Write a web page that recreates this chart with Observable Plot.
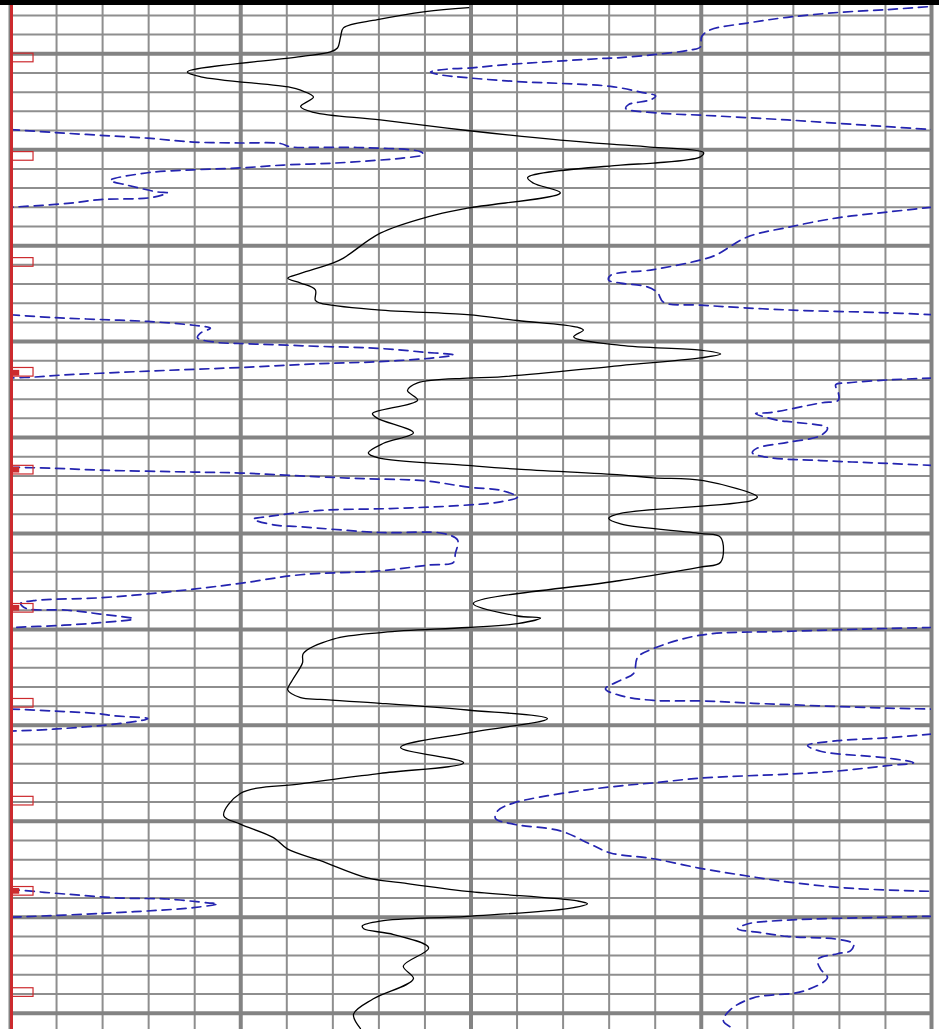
<!DOCTYPE html>
<html><head><meta charset="utf-8">
<script src="https://cdn.jsdelivr.net/npm/d3@7"></script>
<script src="https://cdn.jsdelivr.net/npm/@observablehq/plot@0.6"></script>
<style>
html,body{margin:0;padding:0;background:#fff;}
#bar{height:5px;width:939px;background:#000;}
#chart svg{display:block;}
</style></head><body>
<div id="bar"></div>
<div id="chart"></div>
<script>
// track scale ticks
const minorX = [0,10,20,30,40,50,60,70,80,90,100,110,120,130,140,150,160,170,180,190,200];
const majorX = [0,50,100,150,200];
const minorDepth = [996,998,1000,1002,1004,1006,1008,1010,1012,1014,1016,1018,1020,1022,1024,1026,1028,1030,1032,1034,1036,1038,1040,1042,1044,1046,1048,1050,1052,1054,1056,1058,1060,1062,1064,1066,1068,1070,1072,1074,1076,1078,1080,1082,1084,1086,1088,1090,1092,1094,1096,1098,1100];
const majorDepth = [1000,1010,1020,1030,1040,1050,1060,1070,1080,1090,1100];

// solid black curve: [depth, value]
const gammaRay = [[995.2,99.5],[995.6,90.1],[996.45,79.7],[997.3,72.3],[998.2,71.7],[999.4,71.0],[999.8,69.5],[1000.3,63.0],[1001.9,38.4],[1002.4,41.3],[1003.5,60.8],[1003.8,63.0],[1004.5,65.8],[1005.5,63.0],[1006.1,65.8],[1006.9,80.3],[1008.0,99.2],[1009.0,119.4],[1009.5,132.5],[1009.7,138.3],[1010.3,150.5],[1010.75,149.8],[1011.4,139.6],[1011.6,132.5],[1012.9,112.3],[1013.5,113.6],[1014.5,119.4],[1016.1,99.2],[1017.0,90.6],[1018.7,80.3],[1021.3,72.3],[1021.8,70.1],[1022.9,63.0],[1023.4,60.2],[1023.9,63.0],[1024.6,66.2],[1025.7,66.2],[1026.0,67.3],[1026.7,79.7],[1027.2,99.2],[1027.8,110.1],[1028.5,123.1],[1028.8,124.4],[1029.5,122.3],[1030.4,132.5],[1030.9,149.8],[1031.3,154.2],[1031.7,149.8],[1032.5,132.5],[1033.7,105.8],[1033.8,99.2],[1034.3,88.4],[1035.1,86.2],[1036.1,88.4],[1037.5,78.6],[1038.0,79.7],[1039.5,87.5],[1040.6,81.0],[1041.6,77.7],[1042.1,79.7],[1042.9,99.2],[1043.3,110.1],[1043.9,132.5],[1044.2,139.6],[1044.5,150.5],[1046.2,162.2],[1046.6,160.7],[1047.9,132.5],[1048.4,129.9],[1049.0,132.5],[1050.0,149.8],[1050.4,154.2],[1053.0,154.2],[1053.5,149.8],[1054.9,132.5],[1057.3,100.5],[1058.6,110.1],[1058.8,115.1],[1059.4,110.1],[1059.8,99.2],[1060.3,81.0],[1061.0,70.1],[1062.5,63.6],[1063.5,63.4],[1065.3,61.2],[1066.3,60.2],[1067.1,63.0],[1067.3,67.3],[1067.7,80.3],[1068.4,99.2],[1069.3,116.6],[1070.8,99.2],[1072.3,84.7],[1073.9,98.4],[1075.0,80.3],[1076.1,63.0],[1077.1,49.9],[1079.4,46.3],[1080.3,49.9],[1081.7,57.1],[1082.9,60.2],[1084.1,67.3],[1085.9,77.5],[1086.4,84.7],[1087.3,99.2],[1088.3,123.1],[1088.6,125.3],[1089.1,121.0],[1089.9,99.2],[1090.4,80.3],[1090.9,76.4],[1091.2,76.7],[1091.8,83.2],[1093.2,90.8],[1095.1,85.3],[1096.4,87.5],[1098.5,78.8],[1100.1,74.5],[1101.6,76.0]];

// dashed blue curve, wrapped into track segments: [depth, value]
const blueA = [[995.1,199.1],[995.4,190.4],[995.7,179.6],[996.2,168.7],[996.8,160.0],[997.5,152.0],[998.2,150.1],[999.3,149.8],[999.6,147.7],[1000.1,139.6],[1000.4,132.5],[1000.5,128.1],[1001.1,108.6],[1001.5,99.2],[1001.6,94.9],[1001.9,91.2],[1002.2,93.4],[1002.5,99.2],[1002.9,110.1],[1003.4,130.3],[1004.0,136.8],[1004.4,140.1],[1004.8,139.0],[1005.3,134.2],[1005.7,133.6],[1006.2,141.2],[1006.4,149.8],[1006.9,168.7],[1007.6,190.4],[1007.9,200]];
const blueB = [[1007.9,0],[1008.2,9.3],[1008.5,19.5],[1008.8,29.8],[1009.2,39.7],[1009.3,49.9],[1009.35,58.6],[1009.7,60.8],[1009.75,67.3],[1009.8,77.5],[1010.2,89.0],[1010.5,89.7],[1010.9,84.7],[1011.1,79.7],[1011.4,70.1],[1011.6,59.3],[1011.9,49.9],[1012.1,39.7],[1012.4,29.8],[1013.2,21.7],[1013.7,25.4],[1014.4,31.9],[1014.5,34.1],[1015.0,30.4],[1015.2,19.5],[1015.6,12.4],[1016.0,0]];
const blueC = [[1016.0,200],[1016.5,190.4],[1017.1,179.6],[1018.1,168.7],[1019.1,160.0],[1021.0,153.1],[1021.5,149.8],[1022.5,139.6],[1023.1,130.3],[1023.6,129.9],[1023.9,132.5],[1024.3,138.3],[1024.9,140.5],[1025.9,141.8],[1026.2,149.8],[1026.7,168.7],[1027.0,190.4],[1027.2,200]];
const blueD = [[1027.2,0],[1027.5,9.3],[1027.7,19.5],[1027.9,29.8],[1028.3,39.7],[1028.6,43.4],[1029.1,41.3],[1029.6,40.6],[1030.1,45.0],[1030.2,49.9],[1030.5,67.3],[1030.7,79.7],[1031.1,89.7],[1031.4,96.2],[1031.7,91.9],[1032.1,79.7],[1032.3,67.3],[1032.7,49.9],[1033.0,34.1],[1033.3,19.5],[1033.5,10.9],[1033.7,5.0],[1033.8,0]];
const blueE = [[1033.8,200],[1034.0,190.4],[1034.3,181.8],[1034.5,179.2],[1035.4,179.8],[1036.1,179.8],[1036.4,175.9],[1037.4,165.0],[1037.5,161.8],[1038.2,166.6],[1038.4,170.0],[1039.0,177.4],[1039.8,175.9],[1040.5,168.7],[1041.1,162.2],[1041.6,161.1],[1042.1,165.0],[1042.4,175.9],[1042.7,190.4],[1042.9,200]];
const blueF = [[1043.1,0],[1043.2,9.3],[1043.4,19.5],[1043.6,39.7],[1043.7,49.9],[1044.1,67.3],[1044.3,77.5],[1044.5,89.7],[1045.2,99.9],[1045.5,106.4],[1046.2,110.1],[1046.7,106.4],[1047.1,97.1],[1047.4,82.5],[1047.6,67.3],[1048.2,56.5],[1048.5,52.8],[1049.1,57.1],[1049.3,63.0],[1049.9,80.3],[1050.0,94.0],[1050.7,97.1],[1052.1,96.6],[1053.0,96.2],[1053.3,90.6],[1053.9,80.3],[1054.3,63.0],[1055.2,49.9],[1055.8,39.7],[1056.3,29.8],[1056.7,19.5],[1057.0,5.0],[1057.3,2.2],[1057.8,3.3],[1058.0,12.4],[1058.4,19.5],[1058.9,26.7],[1059.3,19.5],[1059.6,10.2],[1059.8,0]];
const blueG = [[1059.8,200],[1059.9,190.4],[1060.2,168.7],[1060.6,149.8],[1062.0,139.6],[1062.9,136.2],[1064.6,135.3],[1065.3,132.5],[1066.2,129.2],[1066.9,132.5],[1067.4,139.6],[1067.45,149.8],[1067.7,161.3],[1068.2,190.4],[1068.3,200]];
const blueH = [[1068.3,0],[1068.5,9.3],[1068.8,19.5],[1069.0,22.4],[1069.3,29.8],[1069.8,23.9],[1070.4,9.3],[1070.6,0]];
const blueI = [[1070.9,200],[1071.3,190.4],[1071.6,179.6],[1072.1,173.1],[1072.7,175.9],[1073.4,190.4],[1073.9,196.1],[1074.2,190.4],[1074.8,178.7],[1075.1,167.9],[1075.5,149.8],[1076.0,139.6],[1076.3,132.5],[1077.0,121.0],[1078.1,109.2],[1078.9,105.8],[1079.7,105.3],[1080.3,109.2],[1081.0,119.4],[1082.4,126.0],[1083.3,130.3],[1083.9,139.6],[1084.9,149.8],[1085.7,160.0],[1086.4,170.0],[1087.0,183.1],[1087.3,200]];
const blueJ = [[1087.1,0],[1087.6,12.4],[1088.0,23.9],[1088.1,34.1],[1088.5,42.8],[1088.6,45.0],[1089.0,39.7],[1089.6,19.5],[1090.0,0]];
const blueK = [[1089.9,200],[1090.0,190.4],[1090.3,168.7],[1090.7,160.0],[1091.2,157.9],[1091.6,162.9],[1092.0,168.7],[1092.3,179.6],[1092.8,183.1],[1093.5,182.4],[1093.8,179.6],[1094.4,175.3],[1095.4,175.9],[1096.3,177.4],[1097.7,172.2],[1098.4,161.3],[1099.6,156.4],[1100.8,154.8],[1101.6,157.0]];

// depth markers on the left depth track
const markerDepth = [1000.44,1010.7,1021.75,1033.2,1043.4,1057.8,1067.7,1077.9,1087.3,1097.85];
const filledMarkerDepth = [1033.3,1043.4,1057.8,1087.3];

const grData = gammaRay.map(([d, v]) => ({d, v}));
const blueSegments = [blueA, blueB, blueC, blueD, blueE, blueF, blueG, blueH, blueI, blueJ, blueK];
const blueData = blueSegments.flatMap((seg, i) => seg.map(([d, v]) => ({d, v, seg: i})));

const red = "#cc2a2e";
const chart = Plot.plot({
  width: 939,
  height: 1024,
  marginTop: 0, marginBottom: 0, marginLeft: 10, marginRight: 8,
  x: {domain: [0, 200], axis: null},
  y: {domain: [994.97, 1101.70], reverse: true, axis: null},
  style: {background: "#ffffff", overflow: "hidden"},
  marks: [
    Plot.ruleX(minorX, {stroke: "#8e8e8e", strokeWidth: 2}),
    Plot.ruleY(minorDepth, {stroke: "#8e8e8e", strokeWidth: 2}),
    Plot.ruleX(majorX, {stroke: "#838383", strokeWidth: 4}),
    Plot.ruleY(majorDepth, {stroke: "#838383", strokeWidth: 4}),
    Plot.line(blueData, {x: "v", y: "d", z: "seg", stroke: "#2424b0", strokeWidth: 1.7, strokeDasharray: "9,6", curve: "catmull-rom", clip: true}),
    Plot.line(grData, {x: "v", y: "d", stroke: "#000000", strokeWidth: 1.3, curve: "catmull-rom", clip: true}),
    Plot.ruleX([0], {stroke: red, strokeWidth: 3, dx: 1}),
    Plot.rect(markerDepth, {x1: 0.3, x2: 5.0, y1: d => d - 0.45, y2: d => d + 0.45, stroke: red, strokeWidth: 1.2, fill: "none"}),
    Plot.rect(filledMarkerDepth, {x1: 0.3, x2: 2.0, y1: d => d - 0.3, y2: d => d + 0.3, fill: red})
  ]
});
document.getElementById("chart").appendChild(chart);
</script>
</body></html>
